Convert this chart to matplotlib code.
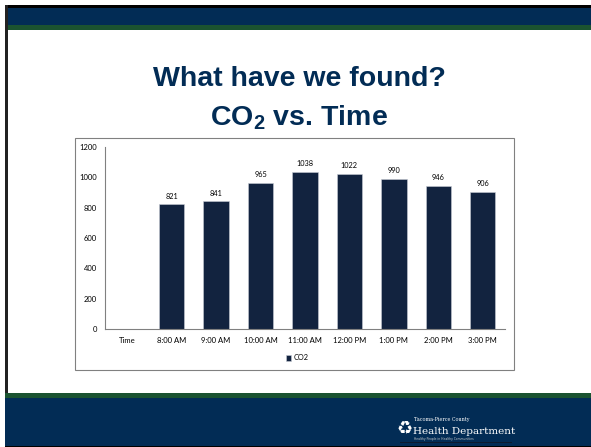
import numpy as np
import matplotlib.pyplot as plt
from matplotlib.patches import Rectangle

plt.rcParams["mathtext.fontset"] = "custom"
plt.rcParams["mathtext.bf"] = "Liberation Sans:bold"
plt.rcParams["mathtext.rm"] = "Liberation Sans:bold"

categories = ["Time", "8:00 AM", "9:00 AM", "10:00 AM", "11:00 AM",
              "12:00 PM", "1:00 PM", "2:00 PM", "3:00 PM"]
co2 = [np.nan, 821, 841, 965, 1038, 1022, 990, 946, 906]
yticks = [0, 200, 400, 600, 800, 1000, 1200]

navy = "#022c55"
green = "#1b5330"
bar_color = "#12233f"

fig = plt.figure(figsize=(5.91, 4.47), dpi=100)
W, H = 591, 447

def px_rect(x0, y0, x1, y1, **kw):
    # rectangle in pixel coords (origin top-left)
    fig.patches.append(Rectangle((x0 / W, 1 - y1 / H), (x1 - x0) / W, (y1 - y0) / H,
                                 transform=fig.transFigure, figure=fig, **kw))

# slide frame
px_rect(5, 5, W, 8, color="black", lw=0)
px_rect(5, 8, W, 25, color=navy, lw=0)
px_rect(5, 25, W, 30, color=green, lw=0)
px_rect(5, 5, 8, H, color="#222222", lw=0)
px_rect(5, 393, W, 398, color=green, lw=0)
px_rect(5, 398, W, 446, color=navy, lw=0)
px_rect(5, 446, W, H, color="black", lw=0)

# chart box
px_rect(75, 138, 514, 370, facecolor="none", edgecolor="#808080", lw=0.8)

# title
fig.text(299 / W, 1 - 79 / H, "What have we found?", ha="center", va="center",
         fontsize=20.5, fontweight="bold", color=navy, family="Liberation Sans")
fig.text(299 / W, 1 - 118 / H, r"CO$_{\mathbf{2}}$ vs. Time", ha="center", va="center",
         fontsize=20.5, fontweight="bold", color=navy, family="Liberation Sans")

ax = fig.add_axes([105 / W, 1 - 329 / H, 400 / W, 182 / H])
x = np.arange(len(categories))
bars = ax.bar(x, co2, width=0.57, color=bar_color, edgecolor="#c8ccd4", lw=0.4, label="CO2")
for xi, v in zip(x, co2):
    if not np.isnan(v):
        ax.text(xi, v + 30, f"{v:.0f}", ha="center", va="bottom", fontsize=5.3, family="Lato")

ax.set_xlim(-0.5, len(categories) - 0.5)
ax.set_ylim(0, 1200)
ax.set_yticks(yticks)
ax.set_xticks(x)
ax.set_xticklabels(categories)
ax.tick_params(axis="both", length=0, labelsize=5.5, pad=6)
for lab in ax.get_xticklabels() + ax.get_yticklabels():
    lab.set_family("Lato")
for s in ["top", "right"]:
    ax.spines[s].set_visible(False)
for s in ["left", "bottom"]:
    ax.spines[s].set_color("#808080")
    ax.spines[s].set_linewidth(0.8)

ax.legend(loc="center", bbox_to_anchor=(297 / W, 1 - 358 / H), bbox_transform=fig.transFigure,
          frameon=False, prop={"family": "Lato", "size": 5.3}, handlelength=0.7,
          handleheight=0.7, handletextpad=0.3)

# footer logo (approximation)
fig.text(414 / W, 1 - 420 / H, "Tacoma-Pierce County", color="white", fontsize=3.5,
         family="DejaVu Serif", va="center")
fig.text(413 / W, 1 - 431 / H, "Health Department", color="white", fontsize=7.5,
         family="DejaVu Serif", va="center")
fig.text(414 / W, 1 - 439 / H, "Healthy People in Healthy Communities", color="#cccccc",
         fontsize=2.2, va="center")
fig.text(405 / W, 1 - 430 / H, "\u267b", color="white", fontsize=13, va="center", ha="center")
px_rect(400, 442, 512, 443, color="#0d1b30", lw=0)

fig.savefig("out.png", dpi=100)
